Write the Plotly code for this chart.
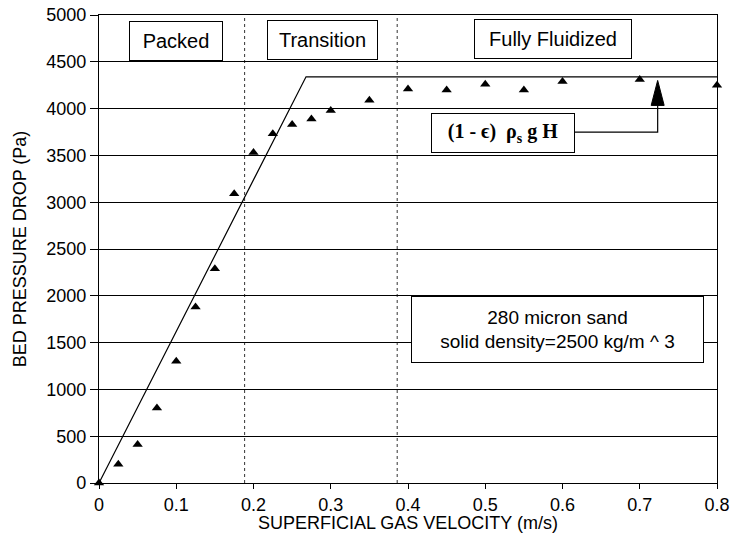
import plotly.graph_objects as go

# ---- data ----
velocity = [0, 0.025, 0.05, 0.075, 0.1, 0.125, 0.15, 0.175, 0.2, 0.225, 0.25,
            0.275, 0.3, 0.35, 0.4, 0.45, 0.5, 0.55, 0.6, 0.7, 0.8]
pressure_drop = [0, 200, 410, 800, 1300, 1880, 2290, 3090, 3530, 3730, 3830,
                 3890, 3980, 4090, 4210, 4200, 4260, 4200, 4290, 4310, 4250]

model_velocity = [0, 0.268, 0.8]
model_pressure = [0, 4340, 4340]

regime_bounds = [0.1885, 0.386]
regime_labels = ["Packed", "Transition", "Fully Fluidized"]
regime_label_x = [0.1001, 0.2898, 0.5873]
regime_label_y = [4722, 4728, 4746]
regime_label_w = [92, 109, 156]

x_ticks = [0, 0.1, 0.2, 0.3, 0.4, 0.5, 0.6, 0.7, 0.8]
x_tick_text = ["0", "0.1", "0.2", "0.3", "0.4", "0.5", "0.6", "0.7", "0.8"]
y_ticks = list(range(0, 5001, 500))

SANS = "Liberation Sans, Arial, Helvetica, sans-serif"
SERIF = "Liberation Serif, Times New Roman, serif"

fig = go.Figure()

fig.add_trace(go.Scatter(
    x=model_velocity, y=model_pressure, mode="lines",
    line=dict(color="black", width=1.2), hoverinfo="skip", showlegend=False))

fig.add_trace(go.Scatter(
    x=velocity, y=pressure_drop, mode="markers",
    marker=dict(symbol="triangle-up", size=9, color="black"),
    cliponaxis=False, showlegend=False))

shapes = []
for xb in regime_bounds:
    shapes.append(dict(type="line", xref="x", yref="y", x0=xb, x1=xb, y0=0, y1=5000,
                       line=dict(color="#333333", width=1, dash="dot"), layer="below"))

# callout for (1 - eps) rho_s g H
cx_left, cx_mid, cy_mid = 0.6155, 0.7232, 3749
arrow_base, arrow_tip, arrow_half = 4034, 4301, 0.0084
shapes.append(dict(type="path", xref="x", yref="y",
                   path=f"M {cx_left} {cy_mid} L {cx_mid} {cy_mid} L {cx_mid} {arrow_base}",
                   line=dict(color="black", width=1.2)))
shapes.append(dict(type="path", xref="x", yref="y",
                   path=f"M {cx_mid-arrow_half} {arrow_base} L {cx_mid+arrow_half} {arrow_base} L {cx_mid} {arrow_tip} Z",
                   fillcolor="black", line=dict(color="black", width=1)))

annotations = []
for lab, lx, ly, lw in zip(regime_labels, regime_label_x, regime_label_y, regime_label_w):
    annotations.append(dict(x=lx, y=ly, xref="x", yref="y", text=lab, showarrow=False,
                            font=dict(family=SANS, size=20, color="black"),
                            bgcolor="white", bordercolor="black", borderwidth=1,
                            borderpad=0, width=lw, height=38))

annotations.append(dict(x=0.5226, y=3735, xref="x", yref="y",
                        text="<b>(1 - ϵ)  ρ<sub>s</sub> g H</b>", showarrow=False,
                        font=dict(family=SERIF, size=20, color="black"),
                        bgcolor="white", bordercolor="black", borderwidth=1,
                        borderpad=0, width=142, height=38))

annotations.append(dict(x=0.5938, y=1638, xref="x", yref="y",
                        text="280 micron sand<br>solid density=2500 kg/m ^ 3", showarrow=False,
                        font=dict(family=SANS, size=19, color="black"),
                        bgcolor="white", bordercolor="black", borderwidth=1,
                        borderpad=0, width=291, height=65))

fig.update_layout(
    width=732, height=533,
    margin=dict(l=99, r=15, t=15, b=50, autoexpand=False),
    paper_bgcolor="white", plot_bgcolor="white",
    font=dict(family=SANS, size=18, color="black"),
    shapes=shapes, annotations=annotations, showlegend=False,
)

fig.update_xaxes(
    range=[0, 0.8], tickvals=x_ticks, ticktext=x_tick_text,
    showgrid=False, zeroline=False, automargin=False,
    showline=True, linecolor="black", linewidth=1.2, mirror=True,
    ticks="outside", ticklen=5, tickcolor="black",
    tickfont=dict(family=SANS, size=18),
    title=dict(text="SUPERFICIAL GAS VELOCITY (m/s)", font=dict(family=SANS, size=18), standoff=2),
)
fig.update_yaxes(
    range=[0, 5000], tickvals=y_ticks,
    showgrid=True, gridcolor="black", gridwidth=1.2, zeroline=False, automargin=False,
    showline=True, linecolor="black", linewidth=1.2, mirror=True,
    ticks="outside", ticklen=8, tickcolor="black",
    tickfont=dict(family=SANS, size=18),
    title=dict(text="BED PRESSURE DROP (Pa)", font=dict(family=SANS, size=18), standoff=14),
)

fig.write_html("out.html", config={"displayModeBar": False},
               post_script="document.body.style.margin='0';")
